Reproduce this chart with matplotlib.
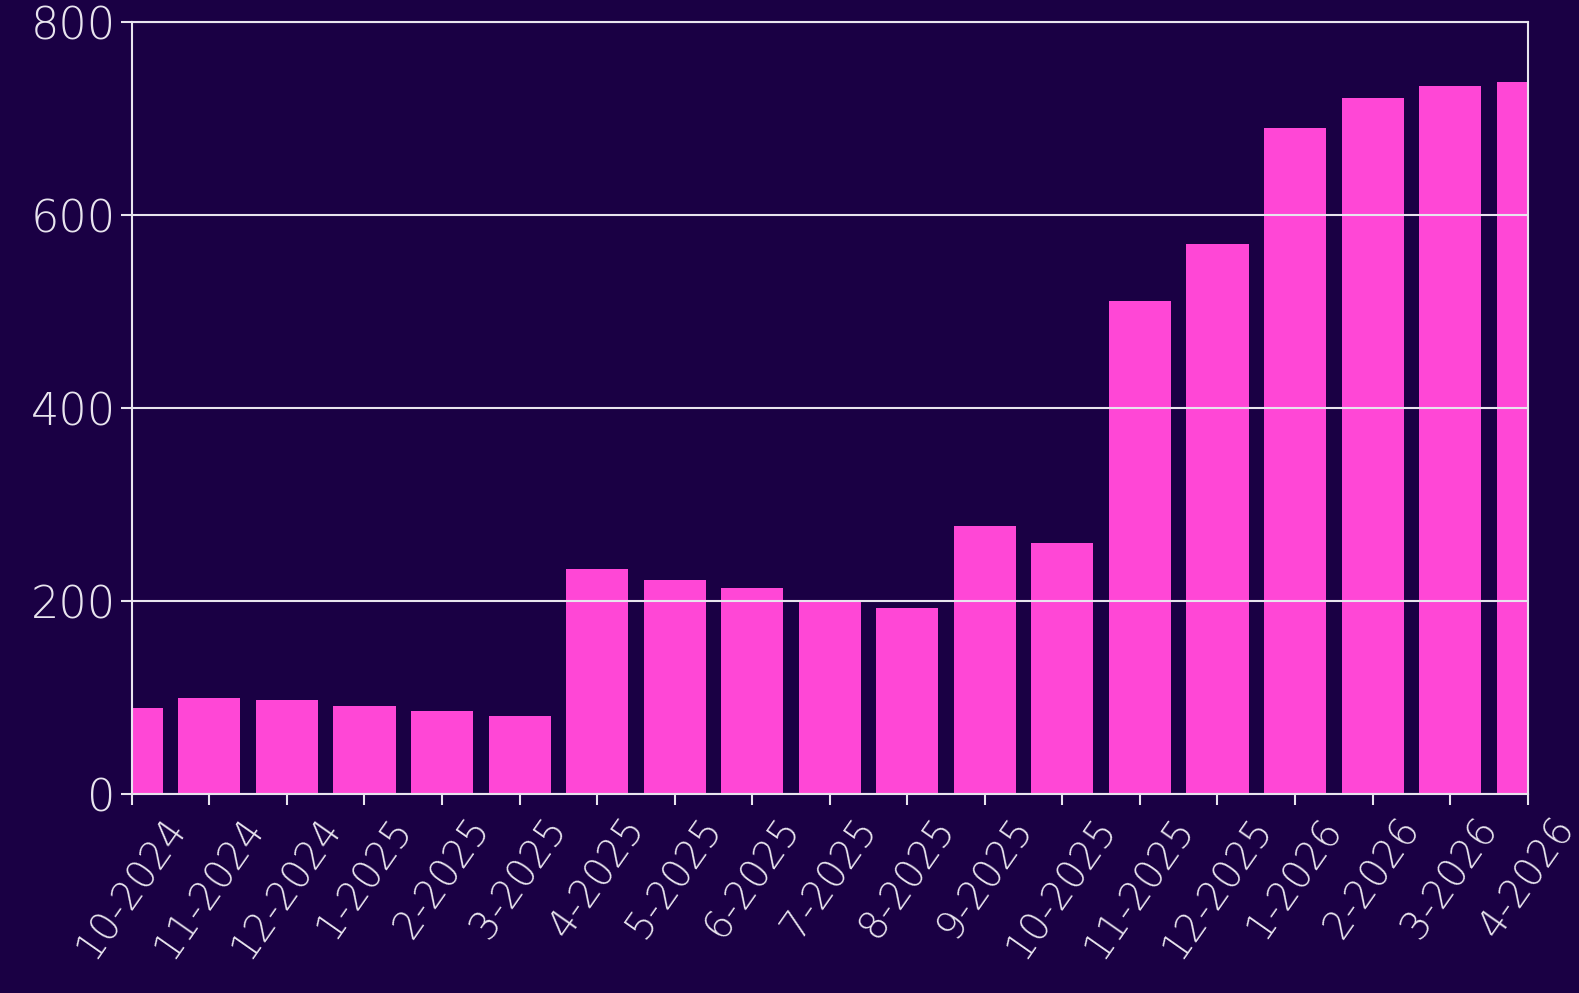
import matplotlib
matplotlib.use("Agg")
import matplotlib.pyplot as plt

months = ["10-2024", "11-2024", "12-2024", "1-2025", "2-2025", "3-2025",
          "4-2025", "5-2025", "6-2025", "7-2025", "8-2025", "9-2025",
          "10-2025", "11-2025", "12-2025", "1-2026", "2-2026", "3-2026", "4-2026"]
values = [90, 100, 98, 92, 86, 81, 233, 222, 214, 200, 193, 278,
          260, 511, 570, 690, 721, 734, 738]
y_ticks = [0, 200, 400, 600, 800]

bg = "#1a0044"
pink = "#ff47d6"
fg = "#e8e4ee"

plt.rcParams['font.family'] = ['DejaVu Sans']

fig = plt.figure(figsize=(15.79, 9.93), dpi=100, facecolor=bg)
ax = fig.add_axes([0.0835, 0.2, 0.884, 0.7777], facecolor=bg)

x = list(range(len(months)))
ax.bar(x, values, width=0.8, color=pink, zorder=1)

ax.set_xlim(0, len(months) - 1)
ax.set_ylim(0, 800)
ax.set_yticks(y_ticks)
ax.set_xticks(x)
ax.set_xticklabels(months, rotation=55)
for g in y_ticks:
    ax.axhline(g, color=fg, lw=1.5, zorder=2)

for s in ax.spines.values():
    s.set_color(fg)
    s.set_linewidth(1.5)
    s.set_zorder(3)
ax.tick_params(colors=fg, labelsize=28, width=1.5, length=8)
ax.tick_params(axis='y', labelsize=32)
for lbl in ax.get_xticklabels() + ax.get_yticklabels():
    lbl.set_fontweight('ultralight')

fig.savefig("out.png", dpi=100, facecolor=bg)
